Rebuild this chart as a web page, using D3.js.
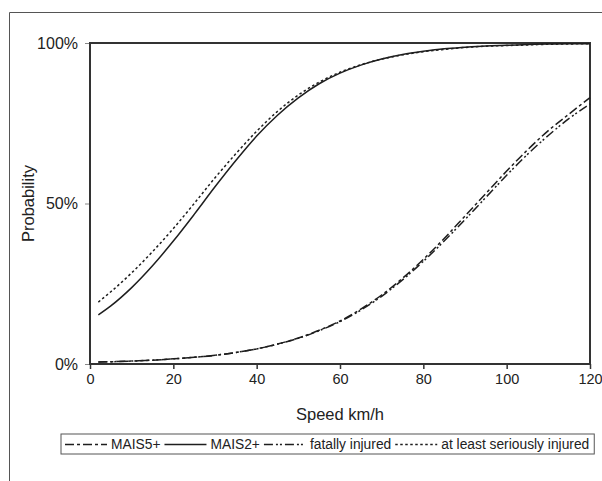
<!DOCTYPE html>
<html>
<head>
<meta charset="utf-8">
<script src="https://cdn.jsdelivr.net/npm/d3@7"></script>
<style>
  html, body { margin: 0; padding: 0; background: #fff; overflow: hidden; }
  svg { display: block; font-family: Arial, "Liberation Sans", sans-serif; }
</style>
</head>
<body>
<div id="chart"></div>
<script>
// speeds (km/h) at which the curves were read
const speeds = [2, 5, 10, 15, 20, 25, 30, 35, 40, 45, 50, 55, 60, 65, 70, 75, 80, 85, 90, 95, 100, 105, 110, 115, 120];

// probability values (0..1)
const mais5 = [0.006, 0.007, 0.009, 0.012, 0.016, 0.021, 0.027, 0.036, 0.047, 0.062, 0.081, 0.105, 0.134, 0.171, 0.215, 0.267, 0.326, 0.391, 0.461, 0.531, 0.601, 0.667, 0.727, 0.779, 0.830];
const mais2 = [0.153, 0.181, 0.238, 0.306, 0.383, 0.466, 0.552, 0.634, 0.710, 0.775, 0.829, 0.873, 0.906, 0.931, 0.950, 0.964, 0.974, 0.982, 0.987, 0.991, 0.993, 0.995, 0.997, 0.998, 0.998];
const fatal = [0.006, 0.007, 0.009, 0.012, 0.016, 0.021, 0.027, 0.036, 0.047, 0.062, 0.080, 0.104, 0.132, 0.168, 0.211, 0.262, 0.320, 0.383, 0.450, 0.519, 0.588, 0.653, 0.712, 0.765, 0.810];
const seriously = [0.193, 0.225, 0.284, 0.350, 0.422, 0.500, 0.580, 0.655, 0.725, 0.787, 0.838, 0.878, 0.909, 0.932, 0.950, 0.963, 0.973, 0.980, 0.986, 0.990, 0.992, 0.994, 0.996, 0.997, 0.998];

const xTicks = [0, 20, 40, 60, 80, 100, 120];
const yTicks = [0, 0.5, 1];

const series = [
  { name: 'MAIS5+', values: mais5, dash: '9,3,3,3' },
  { name: 'MAIS2+', values: mais2, dash: null },
  { name: 'fatally injured', values: fatal, dash: '9,3,2,2,2,3' },
  { name: 'at least seriously injured', values: seriously, dash: '2.5,2.5' },
];

const W = 602, H = 481;
const m = { left: 90, right: 12, top: 43, bottom: 117 };
const w = W - m.left - m.right;
const h = H - m.top - m.bottom;
const ink = '#1e1e1e';

const svg = d3.select('#chart').append('svg')
  .attr('width', W).attr('height', H);

// outer frame (top + left only)
svg.append('path')
  .attr('d', `M9.5,${H} V12.5 H${W}`)
  .attr('fill', 'none').attr('stroke', '#555').attr('stroke-width', 1);

const g = svg.append('g').attr('transform', `translate(${m.left},${m.top})`);

const x = d3.scaleLinear().domain([0, 120]).range([0, w]);
const y = d3.scaleLinear().domain([0, 1]).range([h, 0]);

// axis X
g.append('g')
  .attr('transform', `translate(0,${h})`)
  .call(d3.axisBottom(x).tickValues(xTicks).tickSize(5).tickPadding(5))
  .call(gg => gg.select('.domain').remove())
  .call(gg => gg.selectAll('line').attr('stroke', '#333').attr('stroke-width', 1.5))
  .call(gg => gg.selectAll('text')
    .attr('fill', '#222')
    .style('font-size', '14.5px')
    .style('font-family', 'Arial, "Liberation Sans", sans-serif'));

// axis Y
g.append('g')
  .call(d3.axisLeft(y).tickValues(yTicks).tickSize(5).tickPadding(7)
    .tickFormat(d => Math.round(d * 100) + '%'))
  .call(gg => gg.select('.domain').remove())
  .call(gg => gg.selectAll('line').attr('stroke', '#888').attr('stroke-width', 1))
  .call(gg => gg.selectAll('text')
    .attr('fill', '#222')
    .style('font-size', '16px')
    .style('font-family', 'Arial, "Liberation Sans", sans-serif'));

// plot frame
g.append('rect')
  .attr('x', 0).attr('y', 0).attr('width', w).attr('height', h)
  .attr('fill', 'none').attr('stroke', '#333').attr('stroke-width', 2);

// curves
const line = d3.line()
  .x((d, i) => x(speeds[i]))
  .y(d => y(d))
  .curve(d3.curveMonotoneX);

series.forEach(s => {
  g.append('path')
    .datum(s.values)
    .attr('fill', 'none')
    .attr('stroke', ink)
    .attr('stroke-width', 1.5)
    .attr('stroke-dasharray', s.dash)
    .attr('d', line);
});

// axis titles
svg.append('text')
  .attr('x', m.left + w / 2).attr('y', 420)
  .attr('text-anchor', 'middle')
  .attr('fill', '#222')
  .style('font-size', '16.5px')
  .text('Speed km/h');

svg.append('text')
  .attr('transform', `translate(34,${m.top + h / 2}) rotate(-90)`)
  .attr('text-anchor', 'middle')
  .attr('fill', '#222')
  .style('font-size', '16.5px')
  .text('Probability');

// legend
const lg = svg.append('g').attr('transform', 'translate(61,434)');
const box = lg.append('rect')
  .attr('height', 20).attr('fill', '#fff')
  .attr('stroke', '#555').attr('stroke-width', 1);

let cx = 4;
series.forEach(s => {
  lg.append('line')
    .attr('x1', cx).attr('x2', cx + 42).attr('y1', 10.5).attr('y2', 10.5)
    .attr('stroke', ink).attr('stroke-width', 1.4)
    .attr('stroke-dasharray', s.dash);
  cx += 46;
  const t = lg.append('text')
    .attr('x', cx).attr('y', 15)
    .attr('fill', '#222')
    .style('font-size', '13.8px')
    .text(s.name);
  cx += t.node().getComputedTextLength() + 4;
});
box.attr('width', cx + 1);
</script>
</body>
</html>
